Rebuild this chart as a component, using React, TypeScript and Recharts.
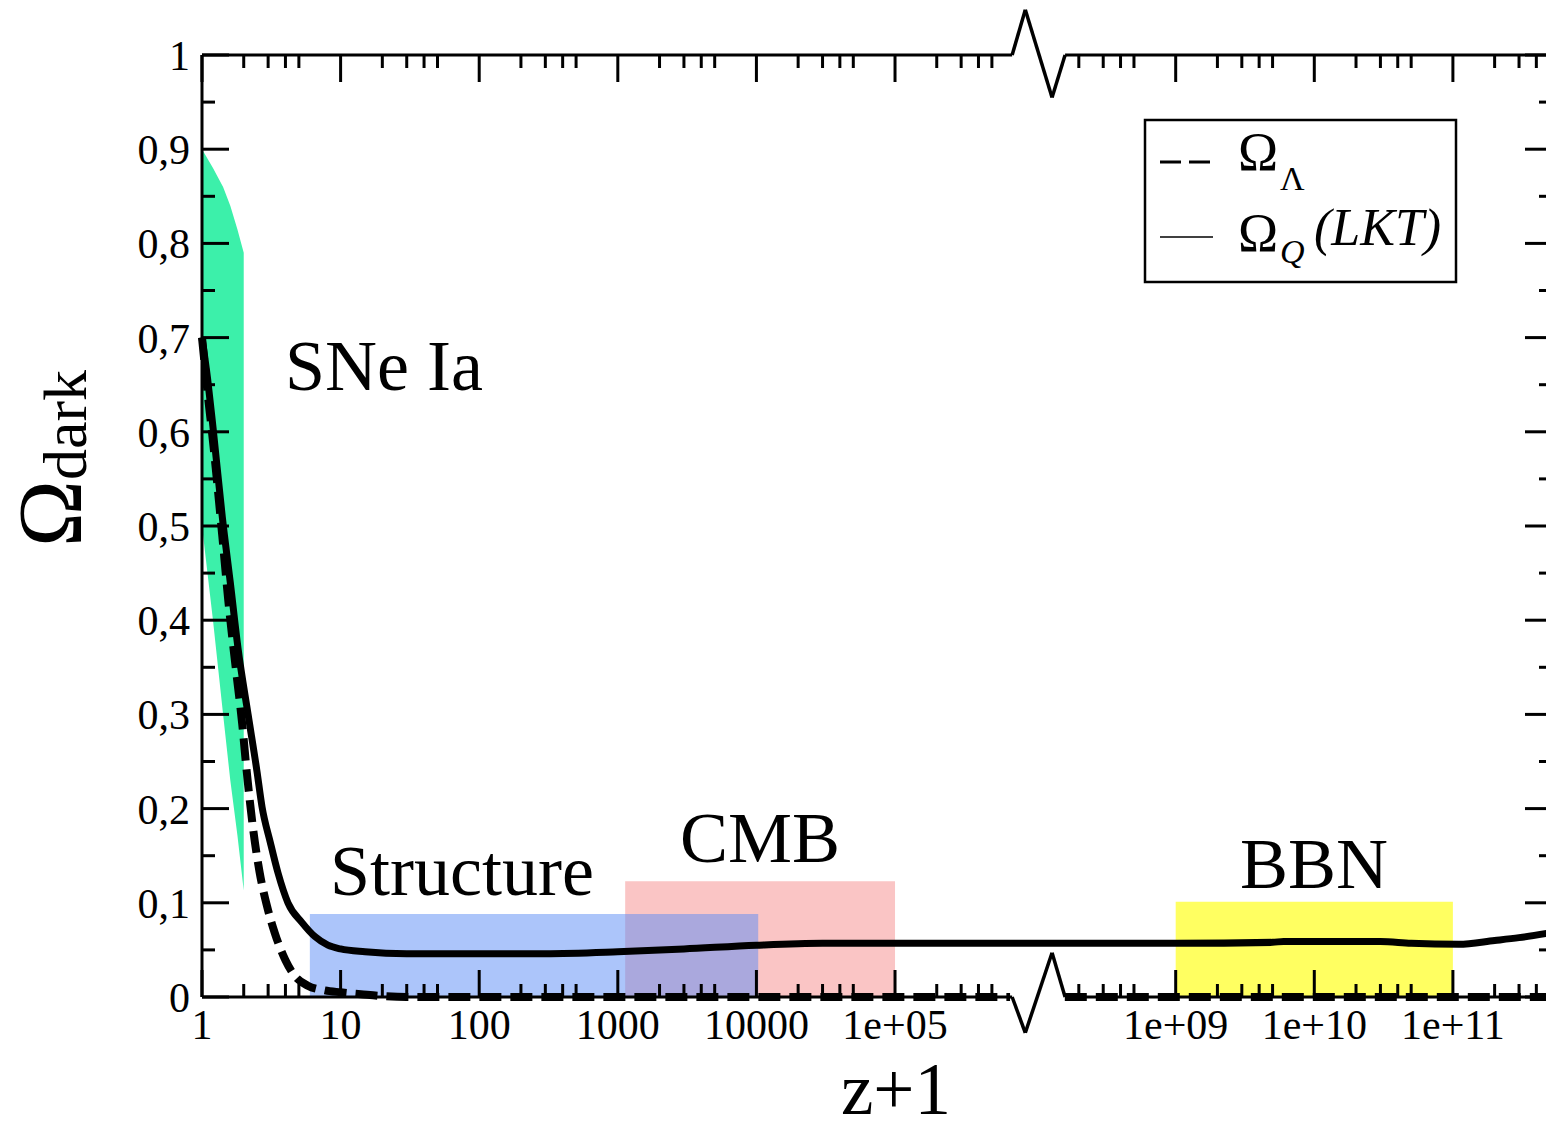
import React from 'react';
import {
  ComposedChart,
  Line,
  Area,
  XAxis,
  YAxis,
  ReferenceArea,
  ReferenceLine,
  Customized,
} from 'recharts';

const FONT = "'Liberation Serif', 'Times New Roman', 'DejaVu Serif', serif";

// ---------- data (x = z+1) ----------
const lambdaZ = [1, 1.1, 1.2, 1.4, 1.55, 1.75, 1.95, 2.1, 2.33, 2.6, 2.95, 3.35, 4, 4.7, 5.8, 7.7, 10, 14, 20, 30, 1000, 1e5, 6.76e5, 1e7, 1.585e8, 1e10, 5e11];
const lambdaOmega: (number | null)[] = [0.7, 0.64, 0.59, 0.49, 0.42, 0.35, 0.29, 0.24, 0.18, 0.133, 0.096, 0.068, 0.039, 0.022, 0.012, 0.007, 0.005, 0.003, 0.001, 0, 0, 0, 0, null, 0, 0, 0];

const lktZ = [1, 1.1, 1.2, 1.4, 1.6, 1.82, 2.15, 2.49, 2.71, 3.1, 3.53, 4.17, 5.27, 6.54, 8.1, 10, 15, 30, 100, 300, 1000, 3000, 1e4, 3e4, 1e5, 1e6, 1e8, 1e9, 5e9, 6e9, 3e10, 5e10, 1.1e11, 2e11, 3e11, 5e11];
const lktOmega = [0.7, 0.655, 0.605, 0.51, 0.44, 0.37, 0.3, 0.24, 0.202, 0.165, 0.132, 0.1, 0.079, 0.064, 0.055, 0.051, 0.048, 0.046, 0.046, 0.046, 0.048, 0.051, 0.055, 0.057, 0.057, 0.057, 0.057, 0.057, 0.058, 0.059, 0.059, 0.057, 0.056, 0.06, 0.063, 0.068];

const sneZ = [1, 1.2, 1.42, 1.6, 1.8, 2];
const sneLow = [0.5, 0.4, 0.3, 0.23, 0.172, 0.113];
const sneHigh = [0.9, 0.88, 0.86, 0.84, 0.815, 0.79];

const regionNames = ['CMB', 'Structure', 'BBN'];
const regionFrom = [1130, 6, 1e9];
const regionTo = [1e5, 1.03e4, 1e11];
const regionTop = [0.123, 0.088, 0.101];
const regionColors = ['rgba(245,140,140,0.5)', 'rgba(90,140,245,0.5)', 'rgba(255,255,0,0.62)'];

const xMajorValues = [1, 10, 100, 1000, 10000, 1e5, 1e9, 1e10, 1e11];
const xMajorLabels = ['1', '10', '100', '1000', '10000', '1e+05', '1e+09', '1e+10', '1e+11'];
const xMinorDecades = [1, 10, 100, 1000, 1e4, 1e5, 1e8, 1e9, 1e10, 1e11];
const xMinorMult = [2, 3, 4, 5];

const yMajor = [0, 0.1, 0.2, 0.3, 0.4, 0.5, 0.6, 0.7, 0.8, 0.9, 1];
const yMinor = [0.05, 0.15, 0.25, 0.35, 0.45, 0.55, 0.65, 0.75, 0.85, 0.95];

// ---------- broken log axis transform ----------
const BREAK_L0 = 5.83;
const BREAK_L1 = 8.2;
const SHIFT = 1.975;
const toU = (v: number) => {
  const L = Math.log10(v);
  if (L <= BREAK_L0) return L;
  if (L >= BREAK_L1) return L - SHIFT;
  return BREAK_L0 + ((L - BREAK_L0) * (BREAK_L1 - SHIFT - BREAK_L0)) / (BREAK_L1 - BREAK_L0);
};
const U_MAX = 9.74;

const lambdaData = lambdaZ.map((z, i) => ({ u: toU(z), y: lambdaOmega[i] }));
const lktData = lktZ.map((z, i) => ({ u: toU(z), y: lktOmega[i] }));
const sneData = sneZ.map((z, i) => ({ u: toU(z), range: [sneLow[i], sneHigh[i]] }));

const xMajorU = xMajorValues.map(toU);
const xMinorU: number[] = [];
xMinorDecades.forEach((d) => xMinorMult.forEach((m) => {
  const u = toU(m * d);
  if (u <= U_MAX) xMinorU.push(u);
}));
const xTicks = [...xMajorU, ...xMinorU].sort((a, b) => a - b);
const yTicks = [...yMajor, ...yMinor].sort((a, b) => a - b);

// break zig-zag (axis-break decoration in axis units)
const zigU = [5.845, 5.94, 6.133, 6.227];
const zigTop = [1, 1.048, 0.955, 1];
const zigBottom = [0, -0.038, 0.047, 0];

const MAJOR_LEN = 27;
const MINOR_LEN = 13;
const AXIS_W = 3;

const majorIndexX = (v: number) => xMajorU.findIndex((m) => Math.abs(m - v) < 1e-9);
const isMajorY = (v: number) => Math.abs(v * 10 - Math.round(v * 10)) < 1e-6;
const yLabel = (v: number) => (v === 0 ? '0' : v === 1 ? '1' : v.toFixed(1).replace('.', ','));

const BottomTick = (props: any) => {
  const { x, y, payload } = props;
  const idx = majorIndexX(payload.value);
  const len = idx >= 0 ? MAJOR_LEN : MINOR_LEN;
  return (
    <g>
      <line x1={x} x2={x} y1={y} y2={y - len} stroke="#000" strokeWidth={AXIS_W} />
      {idx >= 0 && (
        <text x={x} y={y + 42} textAnchor="middle" fontSize={42} fontFamily={FONT} fill="#000">
          {xMajorLabels[idx]}
        </text>
      )}
    </g>
  );
};

const TopTick = (props: any) => {
  const { x, y, payload } = props;
  const len = majorIndexX(payload.value) >= 0 ? MAJOR_LEN : MINOR_LEN;
  return <line x1={x} x2={x} y1={y} y2={y + len} stroke="#000" strokeWidth={AXIS_W} />;
};

const LeftTick = (props: any) => {
  const { x, y, payload } = props;
  const major = isMajorY(payload.value);
  return (
    <g>
      <line x1={x} x2={x + (major ? MAJOR_LEN : MINOR_LEN)} y1={y} y2={y} stroke="#000" strokeWidth={AXIS_W} />
      {major && (
        <text x={x - 12} y={y + 15} textAnchor="end" fontSize={42} fontFamily={FONT} fill="#000">
          {yLabel(payload.value)}
        </text>
      )}
    </g>
  );
};

const RightTick = (props: any) => {
  const { x, y, payload } = props;
  const major = isMajorY(payload.value);
  return <line x1={x} x2={x - (major ? MAJOR_LEN : MINOR_LEN)} y1={y} y2={y} stroke="#000" strokeWidth={AXIS_W} />;
};

const Overlay = () => (
  <g fontFamily={FONT} fill="#000">
    {/* annotations */}
    <text x={285} y={390} fontSize={72}>SNe Ia</text>
    <text x={330} y={895} fontSize={72}>Structure</text>
    <text x={680} y={862} fontSize={72}>CMB</text>
    <text x={1240} y={888} fontSize={72}>BBN</text>
    {/* axis titles */}
    <text x={896} y={1114} fontSize={73} textAnchor="middle">z+1</text>
    <text transform="translate(81,547) rotate(-90)" fontSize={90}>
      Ω<tspan dy={5} fontSize={62}>dark</tspan>
    </text>
    {/* legend */}
    <rect x={1145} y={120} width={311} height={162} fill="#fff" stroke="#000" strokeWidth={2.5} />
    <line x1={1160} x2={1213} y1={162} y2={162} stroke="#000" strokeWidth={3} strokeDasharray="21 8" />
    <text x={1238} y={170} fontSize={54}>Ω</text>
    <text x={1280} y={190} fontSize={34}>Λ</text>
    <line x1={1160} x2={1213} y1={237} y2={237} stroke="#000" strokeWidth={1.6} />
    <text x={1238} y={251} fontSize={54}>Ω</text>
    <text x={1280} y={263} fontSize={34} fontStyle="italic">Q</text>
    <text x={1314} y={245} fontSize={52} fontStyle="italic">(LKT)</text>
  </g>
);

export default function App() {
  return (
    <div style={{ position: 'fixed', left: 0, top: 0, width: 1546, height: 1130, overflow: 'hidden', background: '#fff' }}>
      <ComposedChart width={1600} height={1130} margin={{ top: 54, right: 47, bottom: 132, left: 201 }}>
        <XAxis
          dataKey="u"
          type="number"
          domain={[0, U_MAX]}
          allowDataOverflow
          ticks={xTicks}
          interval={0}
          height={1}
          tickSize={0}
          tickMargin={0}
          tickLine={false}
          axisLine={false}
          tick={<BottomTick />}
        />
        <XAxis
          xAxisId="top"
          orientation="top"
          dataKey="u"
          type="number"
          domain={[0, U_MAX]}
          allowDataOverflow
          ticks={xTicks}
          interval={0}
          height={1}
          tickSize={0}
          tickMargin={0}
          tickLine={false}
          axisLine={false}
          tick={<TopTick />}
        />
        <XAxis xAxisId="data" dataKey="u" type="number" domain={[0, U_MAX]} hide />
        <YAxis
          type="number"
          domain={[0, 1]}
          allowDataOverflow
          ticks={yTicks}
          interval={0}
          width={1}
          tickSize={0}
          tickMargin={0}
          tickLine={false}
          axisLine={{ stroke: '#000', strokeWidth: AXIS_W }}
          tick={<LeftTick />}
        />
        <YAxis
          yAxisId="right"
          orientation="right"
          type="number"
          domain={[0, 1]}
          allowDataOverflow
          ticks={yTicks}
          interval={0}
          width={1}
          tickSize={0}
          tickMargin={0}
          tickLine={false}
          axisLine={{ stroke: '#000', strokeWidth: AXIS_W }}
          tick={<RightTick />}
        />
        <YAxis yAxisId="data" type="number" domain={[0, 1]} hide />

        {regionNames.map((n, i) => (
          <ReferenceArea
            key={n}
            x1={toU(regionFrom[i])}
            x2={toU(regionTo[i])}
            y1={0}
            y2={regionTop[i]}
            fill={regionColors[i]}
            fillOpacity={1}
            stroke="none"
            ifOverflow="visible"
          />
        ))}

        <Area
          data={sneData}
          xAxisId="data"
          yAxisId="data"
          dataKey="range"
          type="linear"
          fill="#3cf0aa"
          fillOpacity={1}
          stroke="none"
          isAnimationActive={false}
          dot={false}
          activeDot={false}
        />

        {/* frame top/bottom with axis break */}
        <ReferenceLine segment={[{ x: 0, y: 0 }, { x: zigU[0], y: 0 }]} stroke="#000" strokeWidth={AXIS_W} ifOverflow="visible" />
        <ReferenceLine segment={[{ x: zigU[3], y: 0 }, { x: U_MAX, y: 0 }]} stroke="#000" strokeWidth={AXIS_W} ifOverflow="visible" />
        <ReferenceLine segment={[{ x: 0, y: 1 }, { x: zigU[0], y: 1 }]} stroke="#000" strokeWidth={AXIS_W} ifOverflow="visible" />
        <ReferenceLine segment={[{ x: zigU[3], y: 1 }, { x: U_MAX, y: 1 }]} stroke="#000" strokeWidth={AXIS_W} ifOverflow="visible" />
        {[0, 1, 2].map((k) => (
          <ReferenceLine
            key={'zb' + k}
            segment={[{ x: zigU[k], y: zigBottom[k] }, { x: zigU[k + 1], y: zigBottom[k + 1] }]}
            stroke="#000"
            strokeWidth={3.5}
            ifOverflow="visible"
          />
        ))}
        {[0, 1, 2].map((k) => (
          <ReferenceLine
            key={'zt' + k}
            segment={[{ x: zigU[k], y: zigTop[k] }, { x: zigU[k + 1], y: zigTop[k + 1] }]}
            stroke="#000"
            strokeWidth={3.5}
            ifOverflow="visible"
          />
        ))}

        <Line
          data={lambdaData}
          xAxisId="data"
          yAxisId="data"
          dataKey="y"
          type="monotone"
          stroke="#000"
          strokeWidth={8}
          strokeDasharray="22 9"
          dot={false}
          activeDot={false}
          connectNulls={false}
          isAnimationActive={false}
        />
        <Line
          data={lktData}
          xAxisId="data"
          yAxisId="data"
          dataKey="y"
          type="monotone"
          stroke="#000"
          strokeWidth={7}
          dot={false}
          activeDot={false}
          isAnimationActive={false}
        />

        <Customized component={Overlay} />
      </ComposedChart>
    </div>
  );
}
